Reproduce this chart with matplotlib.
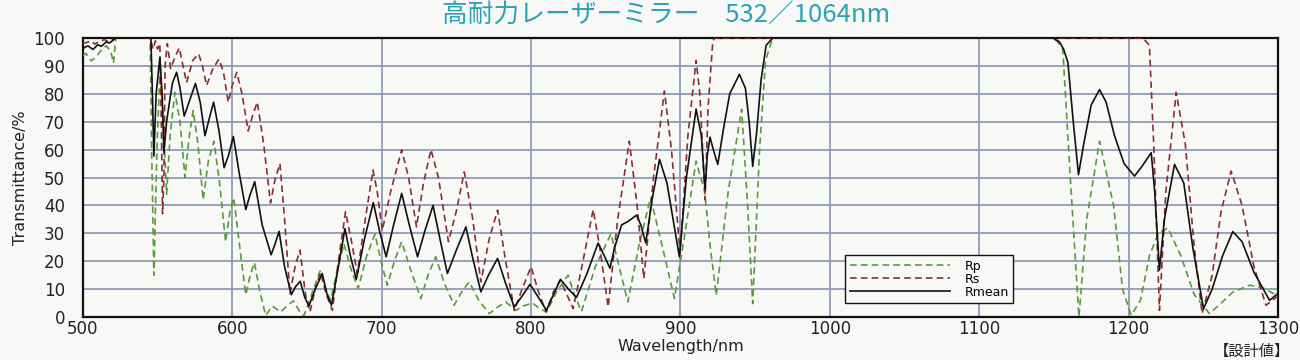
import matplotlib

matplotlib.use("Agg")

from matplotlib import pyplot as plt

plt.rcParams["font.family"] = ["DejaVu Sans", "Noto Sans CJK JP"]

# Rp (p-polarised)
rp_nm = [500, 502, 505.5, 509, 512, 515.5, 518.5, 520.5, 522, 545, 546, 547.5, 549.5, 551.5,
         553.5, 556, 558.5, 561.6, 565, 568.3, 571, 573.8, 577, 580.5, 584, 587.7, 591.5,
         595.5, 598.5, 601, 605, 609, 612, 614.8, 618.5, 622.3, 626.8, 632.4, 636.5, 641, 645,
         648, 653, 659, 662.5, 665.8, 670, 674.7, 679.5, 684.3, 690, 695.5, 700, 703.8, 708.5,
         713.4, 720, 726.2, 731, 736.2, 742, 748.5, 753.5, 758.6, 765, 772, 777.5, 783, 790,
         795, 801, 806, 810.4, 817, 824.8, 829, 833.8, 843, 853.5, 859, 864.8, 872, 880, 888,
         896, 903, 910.5, 913.5, 916, 920, 924, 932, 941, 945, 948.4, 953, 957, 961.8, 1147,
         1152, 1156, 1161, 1166.8, 1172, 1180.6, 1190, 1196, 1201.8, 1208, 1214, 1220, 1226.3,
         1235, 1244, 1254.2, 1262, 1270, 1281, 1290, 1300]
rp_val = [93.6, 94.5, 91.8, 93.3, 95.5, 97.2, 95.5, 91, 100, 100, 60, 15, 60, 87,
          74, 44, 66, 80.5, 70, 50, 64, 74, 62, 42, 56, 63, 48,
          27, 38, 42.7, 25, 8, 15, 19.5, 9, 0.6, 3.9, 1.8, 4, 5.8, 2,
          0.5, 8, 16.8, 10, 6, 16, 26.3, 17, 10.2, 22, 29.7, 19, 11.4, 20,
          27, 16, 6.6, 15, 21.6, 12, 4.2, 9, 12.6, 6, 1.2, 3.5, 5.4, 2.4,
          4, 5, 3, 1.8, 9, 15, 8, 2, 18, 29.8, 18, 5.4, 25, 42.7, 25,
          6.6, 30, 55.9, 50, 46, 25, 7.8, 45, 74.5, 40, 4.8, 60, 92, 100, 100,
          99, 96, 50, 0, 35, 63, 40, 10, 0.6, 6, 22, 30, 31.9,
          22, 8, 1.2, 5, 9, 11.4, 10.5, 7.5]

# Rs (s-polarised)
rs_nm = [500, 503, 505.5, 508, 511, 514.5, 517, 522, 545, 547, 548.5, 550, 551.5, 552.5,
         553.3, 554.2, 555, 556.5, 558.7, 561.5, 564.5, 567, 569.4, 573.5, 577.5, 580, 582.8,
         587, 591, 594, 597.3, 600, 603, 606.5, 610.6, 613.5, 616.7, 621, 625.6, 628.5, 631.9,
         635, 638.6, 642, 645.3, 649, 652, 655.5, 659, 663, 667, 671, 675.8, 679.5, 683.7,
         689, 694.2, 697, 700.4, 706, 713.4, 718, 723.3, 728, 733, 738, 744.7, 750, 755.3,
         761, 766.4, 772, 777.6, 783, 788.8, 794, 800, 805, 810, 815, 819.5, 824, 828.2, 834,
         841.6, 846, 851.6, 858, 865.8, 871, 875.5, 882, 889.3, 894, 899.8, 905, 910.5, 913,
         916.5, 918.5, 921.7, 923, 1209.6, 1214, 1217, 1220.7, 1225, 1231.9, 1238, 1244,
         1249.3, 1256, 1262, 1268.7, 1276, 1284, 1292, 1300]
rs_val = [98, 98.5, 99, 97.8, 98.8, 99.4, 98.6, 100, 100, 96, 99, 96, 98, 70,
          37, 50, 90, 98, 89, 93, 96.5, 90, 84, 92, 94.3, 90, 83,
          89, 92.4, 88, 77, 83, 87.7, 80, 66.7, 72, 77, 62, 40.9, 49, 55,
          35, 8.4, 18, 24, 8, 1.8, 10, 16, 8, 2.4, 20, 37.7, 28, 15.6,
          35, 52.7, 45, 31, 45, 59.9, 50, 32.3, 48, 60, 50, 27, 38, 52,
          35, 12.6, 28, 38.3, 20, 2.4, 10, 18, 9, 1.8, 9, 13.2, 8, 3, 18,
          38.5, 25, 3.6, 35, 63, 40, 13.8, 50, 81, 60, 22.8, 65, 92, 80,
          42, 75, 99, 100, 100, 97.4, 60, 2.4, 45, 80.5, 62, 25,
          1.2, 15, 38, 52.3, 40, 18, 4.2, 7.5]

# Rmean
rm_nm = [500, 503.3, 506.7, 510, 512.3, 515.6, 517.8, 522, 545.5, 546.5, 547.5, 549, 551.5,
         553, 554.2, 556, 558.2, 560, 562.7, 565, 567.8, 571, 575.3, 578.5, 581.7, 584.5, 587.5,
         591, 594.5, 597.5, 600.7, 604.5, 609, 612, 615, 620, 626, 628.5, 631.3, 635, 639.5,
         642.5, 645.5, 648.5, 651.3, 655.5, 660.2, 663.5, 666.4, 671, 675.4, 679, 683, 688.5,
         694.4, 698.5, 703, 708, 713.4, 718.5, 724, 729, 734.4, 739, 744, 750, 756.4, 761,
         766.4, 771.5, 777.6, 783, 788.8, 794, 799.3, 805, 810.3, 815, 819.7, 825, 830.4, 837,
         844.9, 849, 852.8, 856, 860.6, 865, 870.6, 873.5, 876.8, 881, 886, 891, 896, 899.3,
         904, 910.5, 914, 916.5, 918, 919.8, 922, 925, 929, 933, 939.5, 943.5, 946, 948.4,
         951, 954, 957.4, 961.8, 1149.4, 1153.8, 1156.5, 1159.4, 1163, 1166.5, 1170, 1175,
         1180.6, 1185, 1190.6, 1197, 1204, 1209, 1215.2, 1217.5, 1220.7, 1224, 1230.8, 1237,
         1243, 1250.2, 1256, 1263, 1269.8, 1276, 1284, 1294.4, 1300]
rm_val = [96.3, 97.2, 95.9, 97.6, 97, 98.6, 98.2, 100, 100, 80, 57.7, 80, 93,
          80, 59, 70, 78, 84, 87.7, 82, 72, 77, 83.7, 77, 65, 71, 77,
          67, 53.5, 58, 64.7, 52, 38.5, 44, 48.5, 33, 22.3, 26, 30.7, 18, 8,
          11, 12.8, 7, 4, 10, 15.6, 8, 4.2, 18, 31.7, 22, 13.5, 28,
          41, 31, 21.6, 33, 44.3, 33, 21.6, 31, 40, 28, 15.6, 24, 32.3, 21,
          9, 15, 21, 12, 3.6, 7.5, 11.7, 7, 2.4, 8, 13.5, 10, 7, 15,
          26.5, 22, 17.5, 25, 33, 34.3, 36.5, 33, 26.5, 42, 56.5, 48, 32, 21.6,
          50, 74.5, 65, 45.7, 58, 64.5, 60, 54.7, 68, 80, 87, 82, 70, 54,
          66, 85, 97.4, 100, 100, 98.6, 96, 91.3, 70, 51, 62, 76,
          81.5, 77, 65, 55, 50.5, 54, 58.9, 45, 16.8, 35, 54.7, 48,
          25, 3, 10, 22, 30.6, 27, 16, 6, 8.4]

title = "高耐力レーザーミラー\u3000532／1064nm"
grid_color = "#8e9cb4"

fig = plt.figure(figsize=(13, 3.6), dpi=100, facecolor="#f8f8f6")
ax = fig.add_axes([0.0638, 0.1194, 0.9192, 0.775])
ax.set_facecolor("#f8f8f6")

ax.plot(rp_nm, rp_val, color="#5a9a3c", lw=1.2, ls=(0, (4, 2.5)), label="Rp", zorder=3)
ax.plot(rs_nm, rs_val, color="#8a2e33", lw=1.2, ls=(0, (4, 2.5)), label="Rs", zorder=4)
ax.plot(rm_nm, rm_val, color="#111111", lw=1.2, label="Rmean", zorder=5)

ax.set_xlim(500, 1300)
ax.set_ylim(0, 100)
ax.set_xticks(range(500, 1301, 100))
ax.set_yticks(range(0, 101, 10))
ax.grid(True, color=grid_color, lw=1.3)
ax.set_axisbelow(True)
ax.tick_params(length=0, labelsize=12, colors="#222222")
ax.tick_params(axis="y", pad=13)
ax.tick_params(axis="x", pad=2)
for s in ax.spines.values():
    s.set_linewidth(1.6)
    s.set_color("#111111")

ax.set_xlabel("Wavelength/nm", fontsize=11.5, labelpad=1, color="#222222")
ax.set_ylabel("Transmittance/%", fontsize=11.5, labelpad=4, color="#222222")

leg = ax.legend(loc="lower left", bbox_to_anchor=(0.638, 0.05), borderaxespad=0, fontsize=9,
                handlelength=8, handletextpad=1.2, labelspacing=0.0, borderpad=0.35,
                fancybox=False, framealpha=1, edgecolor="#111111", facecolor="#f8f8f6")
leg.get_frame().set_linewidth(1.0)

fig.text(0.512, 0.955, title, fontsize=18.5, color="#2aa3b4", ha="center", va="center",
         family=["Noto Sans CJK JP", "DejaVu Sans"])
fig.text(0.992, 0.025, "【設計値】", fontsize=11, color="#222222", ha="right", va="center",
         family=["Noto Sans CJK JP", "DejaVu Sans"])

fig.savefig("out.png", dpi=100, facecolor=fig.get_facecolor())
